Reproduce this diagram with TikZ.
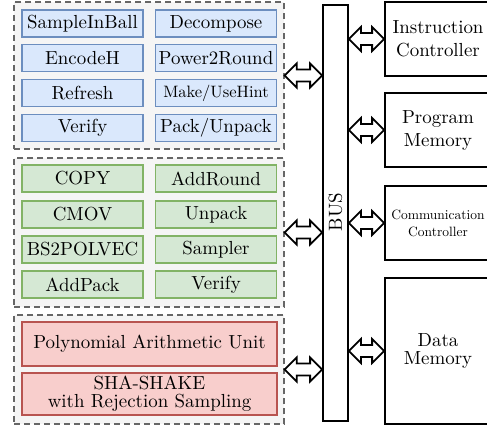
\documentclass[tikz,border=0pt]{standalone}
\usepackage{fontspec}
\setmainfont{lmroman10-regular.otf}
\usetikzlibrary{calc}
\definecolor{bfill}{HTML}{DAE8FC}\definecolor{bline}{HTML}{6C8EBF}
\definecolor{gfill}{HTML}{D5E8D4}\definecolor{gline}{HTML}{82B366}
\definecolor{rfill}{HTML}{F8CECC}\definecolor{rline}{HTML}{B85450}
\definecolor{grpfill}{HTML}{F5F5F5}\definecolor{grpline}{HTML}{666666}
\tikzset{
  grp/.style={draw=grpline, fill=grpfill, line width=1.3pt, dash pattern=on 6pt off 4pt, inner sep=0pt},
  cell/.style={line width=1.6pt, minimum width=121pt, minimum height=27pt, inner sep=0pt, font=\fontsize{18.9}{22}\selectfont},
  bcell/.style={cell, draw=bline, fill=bfill},
  gcell/.style={cell, draw=gline, fill=gfill},
  rcell/.style={cell, draw=rline, fill=rfill, minimum width=255pt, align=center},
  rbox/.style={draw, line width=1.8pt, minimum width=106pt, inner sep=0pt, align=center, font=\fontsize{18.9}{23}\selectfont},
  busarrow/.style={draw, fill=white, line width=1.8pt, line join=miter},
}
\newcommand\dblarrow[2]{\draw[busarrow] let \p1=(#1), \p2=(#2) in
  (\x1,\y1) -- (\x1+12pt,\y1+12pt) -- (\x1+12pt,\y1+6pt) -- (\x2-12pt,\y1+6pt) -- (\x2-12pt,\y1+12pt)
  -- (\x2,\y1) -- (\x2-12pt,\y1-12pt) -- (\x2-12pt,\y1-6pt) -- (\x1+12pt,\y1-6pt) -- (\x1+12pt,\y1-12pt) -- cycle;}
\begin{document}
\begin{tikzpicture}[x=1pt, y=-1pt]
\useasboundingbox (0,0) rectangle (487,431);
% groups
\node[grp, minimum width=270pt, minimum height=147pt] (g1) at (149,75.5) {};
\node[grp, minimum width=270pt, minimum height=149pt] (g2) at (149,232.5) {};
\node[grp, minimum width=270pt, minimum height=109pt] (g3) at (149,369.5) {};
% blue cells
\node[bcell] (b1) at (82.5,23.5) {SampleInBall};
\node[bcell] (b2) at (216,23.5) {Decompose};
\node[bcell] (b3) at (82.5,58) {EncodeH};
\node[bcell] (b4) at (216,58) {Power2Round};
\node[bcell] (b5) at (82.5,93) {Refresh};
\node[bcell, font=\fontsize{16.5}{20}\selectfont] (b6) at (216,93) {Make/UseHint};
\node[bcell] (b7) at (82.5,128) {Verify};
\node[bcell] (b8) at (216,128) {Pack/Unpack};
% green cells
\node[gcell] (c1) at (82.5,178.5) {COPY};
\node[gcell] (c2) at (216,178.5) {AddRound};
\node[gcell] (c3) at (82.5,214.5) {CMOV};
\node[gcell] (c4) at (216,214.5) {Unpack};
\node[gcell] (c5) at (82.5,249.5) {BS2POLVEC};
\node[gcell] (c6) at (216,249.5) {Sampler};
\node[gcell] (c7) at (82.5,284.5) {AddPack};
\node[gcell] (c8) at (216,284.5) {Verify};
% red cells
\node[rcell, minimum height=44pt] (r1) at (149.5,344) {Polynomial Arithmetic Unit};
\node[rcell, minimum height=42pt, font=\fontsize{18.9}{18}\selectfont] (r2) at (149.5,394) {SHA-SHAKE\\with Rejection Sampling};
% bus
\node[draw, line width=1.8pt, fill=white, minimum width=25pt, minimum height=416pt, inner sep=0pt] (bus) at (335.5,213) {};
\node[rotate=90, font=\fontsize{18.9}{22}\selectfont, inner sep=0pt] (buslbl) at (335.5,212) {BUS};
% right boxes
\node[rbox, minimum height=74pt] (ic) at (438,39) {Instruction\\Controller};
\node[rbox, minimum height=74pt] (pm) at (438,130) {Program\\Memory};
\node[rbox, minimum height=74pt, font=\fontsize{13.5}{17}\selectfont] (cc) at (438,223) {Communication\\Controller};
\node[rbox, minimum height=146pt, font=\fontsize{18.9}{18}\selectfont] (dm) at (438,351) {Data\\Memory};
% arrows
\dblarrow{g1.east}{bus.west |- g1.east}
\dblarrow{g2.east}{bus.west |- g2.east}
\dblarrow{g3.east}{bus.west |- g3.east}
\dblarrow{bus.east |- ic.west}{ic.west}
\dblarrow{bus.east |- pm.west}{pm.west}
\dblarrow{bus.east |- cc.west}{cc.west}
\dblarrow{bus.east |- dm.west}{dm.west}
\end{tikzpicture}
\end{document}
